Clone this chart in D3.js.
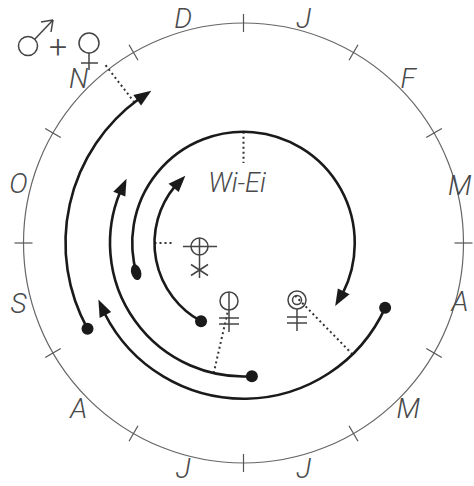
<!DOCTYPE html>
<html>
<head>
<meta charset="utf-8">
<script src="https://cdn.jsdelivr.net/npm/d3@7"></script>
<style>
  body { margin: 0; background: #fff; }
  text { font-family: Roboto, "DejaVu Sans", sans-serif; font-weight: 300; font-style: italic; fill: #4a4a4a; }
</style>
</head>
<body>
<div id="vis"></div>
<script>
// month letters, clockwise from the top (Dec/Jan boundary)
const months = ["J", "F", "M", "A", "M", "J", "J", "A", "S", "O", "N", "D"];

// arcs: ring index (1 = innermost), start and end in months (0 = 1 Jan)
const arcRing  = [5, 4, 3, 2, 1];
const arcStart = [8.04, 3.82, 5.88, 8.44, 6.95];
const arcEnd   = [10.96, 8.29, 9.96, 16.15, 10.64];
const arcMark  = ["dot", "dot", "dot", "drop", "dot"];

// dotted leaders: month, from ring, to ring
const leadMonth = [10.74, 0, 9, 6.43, 4.52];
const leadFrom  = [5, 2, 1, 3, 4];
const leadTo    = [7.2, 0.6, 0.15, 0.1, 0.3];

const width = 474;
const height = 486;
const cx = 243.5, cy = 243;
const outerR = 220;

const angle = d3.scaleLinear().domain([0, 12]).range([0, 2 * Math.PI]);
const radius = d3.scaleLinear().domain([1, 5]).range([89, 178]);

const svg = d3.select("#vis")
  .append("svg")
  .attr("width", width)
  .attr("height", height)
  .attr("viewBox", [0, 0, width, height]);

const g = svg.append("g").attr("transform", `translate(${cx},${cy})`);

// polar -> xy, angle clockwise from top
function pt(a, r) {
  return [r * Math.sin(a), -r * Math.cos(a)];
}

// outer month ring
g.append("circle")
  .attr("r", outerR)
  .attr("fill", "none")
  .attr("stroke", "#666")
  .attr("stroke-width", 1.2);

g.selectAll("line.tick")
  .data(d3.range(12))
  .join("line")
  .attr("class", "tick")
  .attr("x1", d => pt(angle(d), outerR - 9)[0])
  .attr("y1", d => pt(angle(d), outerR - 9)[1])
  .attr("x2", d => pt(angle(d), outerR + 9)[0])
  .attr("y2", d => pt(angle(d), outerR + 9)[1])
  .attr("stroke", "#555")
  .attr("stroke-width", 1.2);

// labels on the right side pulled in a little so they stay on the page
g.selectAll("text.month")
  .data(months)
  .join("text")
  .attr("class", "month")
  .attr("x", (d, i) => pt(angle(i + 0.5), (i === 2 || i === 3) ? 224 : 233)[0])
  .attr("y", (d, i) => pt(angle(i + 0.5), (i === 2 || i === 3) ? 224 : 233)[1])
  .attr("dy", "0.36em")
  .attr("text-anchor", "middle")
  .attr("font-size", 28)
  .text(d => d);

// dotted leaders
const leaders = d3.range(leadMonth.length).map(i => ({ m: leadMonth[i], r0: radius(leadFrom[i]), r1: radius(leadTo[i]) }));
g.selectAll("line.lead")
  .data(leaders)
  .join("line")
  .attr("class", "lead")
  .attr("x1", d => pt(angle(d.m), d.r0)[0])
  .attr("y1", d => pt(angle(d.m), d.r0)[1])
  .attr("x2", d => pt(angle(d.m), d.r1)[0])
  .attr("y2", d => pt(angle(d.m), d.r1)[1])
  .attr("stroke", "#333")
  .attr("stroke-width", 2)
  .attr("stroke-dasharray", "2,3");

// arcs with arrow heads
const arrowLen = 17, arrowW = 13;
const arcs = d3.range(arcRing.length).map(i => ({
  r: radius(arcRing[i]), a0: angle(arcStart[i]), a1: angle(arcEnd[i]), mark: arcMark[i]
}));

g.selectAll("path.arc")
  .data(arcs)
  .join("path")
  .attr("class", "arc")
  .attr("d", d => {
    const p = d3.path();
    const end = d.a1 - (arrowLen - 2) / d.r;
    p.arc(0, 0, d.r, d.a0 - Math.PI / 2, end - Math.PI / 2, false);
    return p.toString();
  })
  .attr("fill", "none")
  .attr("stroke", "#1a1a1a")
  .attr("stroke-width", 2.6);

g.selectAll("path.head")
  .data(arcs)
  .join("path")
  .attr("class", "head")
  .attr("d", d => {
    const tip = pt(d.a1, d.r);
    const ab = d.a1 - arrowLen / d.r;
    const b = pt(ab, d.r);
    const u = [Math.sin(ab), -Math.cos(ab)];
    const c1 = [b[0] + u[0] * arrowW / 2, b[1] + u[1] * arrowW / 2];
    const c2 = [b[0] - u[0] * arrowW / 2, b[1] - u[1] * arrowW / 2];
    return "M" + [tip, c1, c2].join("L") + "Z";
  })
  .attr("fill", "#1a1a1a");

g.selectAll("circle.dot")
  .data(arcs.filter(d => d.mark === "dot"))
  .join("circle")
  .attr("class", "dot")
  .attr("cx", d => pt(d.a0, d.r)[0])
  .attr("cy", d => pt(d.a0, d.r)[1])
  .attr("r", 6)
  .attr("fill", "#1a1a1a");

g.selectAll("ellipse.drop")
  .data(arcs.filter(d => d.mark === "drop"))
  .join("ellipse")
  .attr("class", "drop")
  .attr("transform", d => {
    const a = d.a0 + 3 / d.r;
    const p = pt(a, d.r);
    return `translate(${p[0]},${p[1]}) rotate(${a * 180 / Math.PI})`;
  })
  .attr("rx", 8)
  .attr("ry", 5)
  .attr("fill", "#1a1a1a");

// symbols (absolute page coords)
const sym = svg.append("g")
  .attr("fill", "none")
  .attr("stroke", "#444")
  .attr("stroke-width", 1.5);

function line(x1, y1, x2, y2) {
  sym.append("line").attr("x1", x1).attr("y1", y1).attr("x2", x2).attr("y2", y2);
}

function female(x, y, inner) {
  sym.append("circle").attr("cx", x).attr("cy", y).attr("r", 9);
  if (inner === "bar") line(x, y - 9, x, y + 9);
  if (inner === "ring") sym.append("circle").attr("cx", x).attr("cy", y).attr("r", 4.5);
  line(x, y + 9, x, y + 31);
  line(x - 10, y + 17, x + 10, y + 17);
  line(x - 10, y + 23, x + 10, y + 23);
}

// crossed circle with asterisk stem
sym.append("circle").attr("cx", 199.5).attr("cy", 246.5).attr("r", 8.5);
line(183, 246.5, 217, 246.5);
line(199.5, 238, 199.5, 278);
line(191, 264.5, 208, 275.5);
line(191, 275.5, 208, 264.5);

female(229, 301, "bar");
female(297, 300, "ring");

// male + female at top left
sym.append("circle").attr("cx", 28).attr("cy", 46).attr("r", 9.5);
line(34.7, 39.3, 53, 20);
line(53, 20, 41, 22);
line(53, 20, 51, 32);
sym.append("circle").attr("cx", 89).attr("cy", 43).attr("r", 10);
line(89, 53, 89, 70);
line(81, 63, 98, 63);

svg.append("text")
  .attr("x", 58)
  .attr("y", 58)
  .attr("text-anchor", "middle")
  .attr("font-size", 32)
  .style("font-style", "normal")
  .text("+");

svg.append("text")
  .attr("x", 237)
  .attr("y", 192)
  .attr("text-anchor", "middle")
  .attr("font-size", 27)
  .text("Wi-Ei");
</script>
</body>
</html>
